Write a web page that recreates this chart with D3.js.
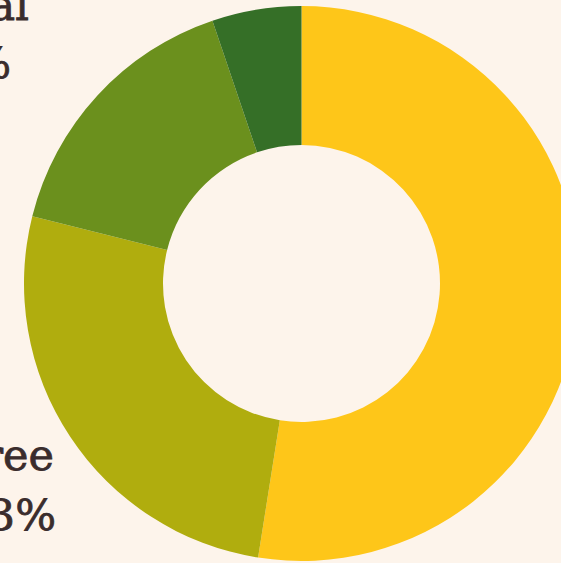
<!DOCTYPE html>
<html><head><meta charset="utf-8">
<script src="https://cdn.jsdelivr.net/npm/d3@7"></script>
<style>html,body{margin:0;padding:0;background:#fdf4eb;overflow:hidden}</style>
</head><body>
<svg id="c" width="561" height="563"></svg>
<script>
const categories = ["Strongly agree", "Agree", "Neutral", "Disagree"];
const values = [52.5, 26.4, 15.9, 5.2];
const colors = ["#fec619", "#b0ad0e", "#6b901d", "#356f27"];
const labelLines = [["Neutral", "16%"], ["Agree", "53%"]];

const svg = d3.select("#c");
const cx = 301.5, cy = 283.5, rOut = 277.5, rIn = 138.5;
const pie = d3.pie().sort(null).value(d => d)(values);
const arc = d3.arc().innerRadius(rIn).outerRadius(rOut);
const g = svg.append("g").attr("transform", `translate(${cx},${cy})`);
g.selectAll("path").data(pie).join("path")
  .attr("d", arc).attr("fill", (d, i) => colors[i]);

const fontStyle = t => t.attr("font-family", "DejaVu Serif, serif")
  .attr("font-size", 43).attr("fill", "#3a2c2c").attr("text-anchor", "end")
  .attr("stroke", "#3a2c2c").attr("stroke-width", 0.8);
// top-left label (cropped)
fontStyle(svg.append("text").attr("x", 29).attr("y", 20).text(labelLines[0][0]));
fontStyle(svg.append("text").attr("x", 11).attr("y", 78).text(labelLines[0][1]));
// bottom-left label (cropped)
fontStyle(svg.append("text").attr("x", 54).attr("y", 470).text(labelLines[1][0]));
fontStyle(svg.append("text").attr("x", 56).attr("y", 530).text(labelLines[1][1]));
</script>
</body></html>
